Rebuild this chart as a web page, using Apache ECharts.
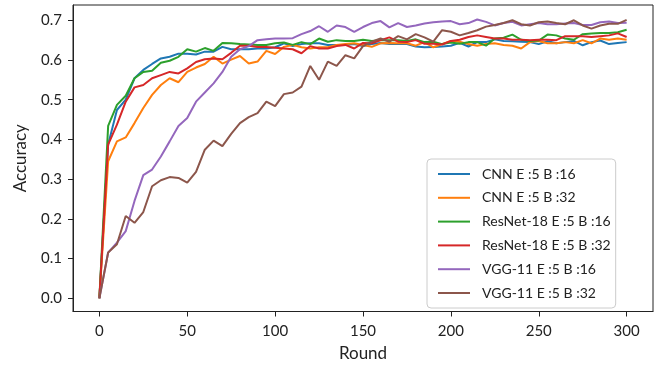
<!DOCTYPE html>
<html>
<head>
  <meta charset="UTF-8">
  <style>
    html, body { margin: 0; padding: 0; background: #fff; }
    #chart { width: 666px; height: 367px; }
  </style>
</head>
<body>
<div id="chart"></div>
<script src="https://cdn.jsdelivr.net/npm/echarts@6/dist/echarts.min.js"></script>
<script type="text/javascript">
  // round numbers on the x axis (one point every 5 rounds)
  var rounds = [0, 5, 10, 15, 20, 25, 30, 35, 40, 45, 50, 55, 60, 65, 70, 75, 80, 85, 90, 95,
    100, 105, 110, 115, 120, 125, 130, 135, 140, 145, 150, 155, 160, 165, 170, 175, 180, 185, 190, 195,
    200, 205, 210, 215, 220, 225, 230, 235, 240, 245, 250, 255, 260, 265, 270, 275, 280, 285, 290, 295, 300];

  var cnn16 = [0.0, 0.387, 0.474, 0.50, 0.554, 0.575, 0.590, 0.604, 0.608, 0.616, 0.616, 0.614, 0.621, 0.621, 0.633, 0.627, 0.627, 0.627, 0.629, 0.629,
    0.632, 0.642, 0.635, 0.640, 0.642, 0.642, 0.638, 0.638, 0.638, 0.640, 0.635, 0.640, 0.643, 0.640, 0.640, 0.640, 0.634, 0.632, 0.633, 0.634,
    0.636, 0.643, 0.634, 0.645, 0.645, 0.652, 0.648, 0.647, 0.646, 0.645, 0.640, 0.647, 0.642, 0.645, 0.648, 0.637, 0.645, 0.649, 0.640, 0.643, 0.645];
  var cnn32 = [0.0, 0.345, 0.395, 0.405, 0.441, 0.479, 0.512, 0.537, 0.554, 0.544, 0.570, 0.581, 0.590, 0.608, 0.591, 0.601, 0.610, 0.591, 0.596, 0.623,
    0.615, 0.633, 0.638, 0.632, 0.629, 0.632, 0.632, 0.638, 0.640, 0.642, 0.638, 0.633, 0.642, 0.643, 0.642, 0.642, 0.636, 0.645, 0.632, 0.640,
    0.648, 0.646, 0.640, 0.636, 0.640, 0.642, 0.638, 0.636, 0.629, 0.645, 0.648, 0.642, 0.642, 0.645, 0.642, 0.650, 0.642, 0.654, 0.651, 0.654, 0.651];
  var res16 = [0.0, 0.434, 0.487, 0.510, 0.554, 0.570, 0.573, 0.593, 0.598, 0.608, 0.627, 0.621, 0.630, 0.623, 0.643, 0.642, 0.640, 0.639, 0.638, 0.638,
    0.642, 0.644, 0.638, 0.645, 0.640, 0.654, 0.646, 0.650, 0.648, 0.648, 0.651, 0.648, 0.650, 0.650, 0.650, 0.648, 0.652, 0.645, 0.646, 0.640,
    0.644, 0.641, 0.645, 0.645, 0.636, 0.654, 0.656, 0.664, 0.651, 0.648, 0.649, 0.664, 0.662, 0.654, 0.651, 0.665, 0.667, 0.668, 0.668, 0.670, 0.676];
  var res32 = [0.0, 0.387, 0.437, 0.495, 0.531, 0.537, 0.554, 0.562, 0.570, 0.566, 0.579, 0.595, 0.602, 0.604, 0.602, 0.618, 0.636, 0.636, 0.633, 0.633,
    0.631, 0.629, 0.627, 0.617, 0.635, 0.629, 0.629, 0.635, 0.638, 0.629, 0.643, 0.642, 0.650, 0.657, 0.646, 0.645, 0.650, 0.641, 0.641, 0.639,
    0.648, 0.651, 0.658, 0.662, 0.658, 0.654, 0.654, 0.651, 0.651, 0.650, 0.651, 0.651, 0.650, 0.660, 0.660, 0.660, 0.658, 0.660, 0.662, 0.667, 0.658];
  var vgg16 = [0.0, 0.115, 0.140, 0.169, 0.245, 0.310, 0.324, 0.357, 0.395, 0.434, 0.454, 0.495, 0.518, 0.541, 0.570, 0.608, 0.627, 0.635, 0.650, 0.652,
    0.654, 0.654, 0.655, 0.665, 0.673, 0.685, 0.671, 0.687, 0.683, 0.671, 0.683, 0.693, 0.698, 0.682, 0.693, 0.683, 0.687, 0.692, 0.695, 0.697,
    0.698, 0.690, 0.693, 0.702, 0.696, 0.687, 0.693, 0.696, 0.687, 0.690, 0.693, 0.690, 0.690, 0.692, 0.693, 0.688, 0.688, 0.695, 0.697, 0.693, 0.694];
  var vgg32 = [0.0, 0.115, 0.136, 0.207, 0.190, 0.217, 0.282, 0.297, 0.305, 0.303, 0.291, 0.318, 0.374, 0.397, 0.383, 0.414, 0.441, 0.456, 0.466, 0.495,
    0.484, 0.514, 0.518, 0.533, 0.585, 0.550, 0.596, 0.585, 0.612, 0.604, 0.635, 0.646, 0.654, 0.646, 0.660, 0.652, 0.665, 0.657, 0.646, 0.675,
    0.671, 0.662, 0.668, 0.675, 0.684, 0.688, 0.693, 0.700, 0.690, 0.687, 0.695, 0.697, 0.693, 0.690, 0.700, 0.687, 0.679, 0.687, 0.691, 0.691, 0.701];

  var names = ['CNN E :5 B :16', 'CNN E :5 B :32', 'ResNet-18 E :5 B :16', 'ResNet-18 E :5 B :32', 'VGG-11 E :5 B :16', 'VGG-11 E :5 B :32'];
  var colors = ['#1f77b4', '#ff7f0e', '#2ca02c', '#d62728', '#9467bd', '#8c564b'];
  var xTicks = [0, 50, 100, 150, 200, 250, 300];
  var yTicks = [0.0, 0.1, 0.2, 0.3, 0.4, 0.5, 0.6, 0.7];

  var font = 'Lato, "Open Sans", sans-serif';
  var allData = [cnn16, cnn32, res16, res32, vgg16, vgg32];

  function pairs(vals) {
    var out = [];
    for (var i = 0; i < vals.length; i++) out.push([rounds[i], vals[i]]);
    return out;
  }

  var series = [];
  for (var s = 0; s < names.length; s++) {
    series.push({
      name: names[s],
      type: 'line',
      data: pairs(allData[s]),
      showSymbol: false,
      symbol: 'none',
      lineStyle: {width: 2, color: colors[s]},
      itemStyle: {color: colors[s]}
    });
  }

  var myChart = echarts.init(document.getElementById('chart'), null, {renderer: 'canvas'});
  var option = {
    animation: false,
    backgroundColor: '#fff',
    grid: {
      left: 73, right: 13, top: 5, bottom: 54,
      show: true, borderColor: '#222', borderWidth: 1, backgroundColor: 'transparent'
    },
    xAxis: {
      type: 'value',
      min: -15, max: 315,
      name: 'Round', nameLocation: 'middle', nameGap: 33.5,
      nameTextStyle: {fontFamily: font, fontSize: 17, color: '#222'},
      axisLine: {show: true, onZero: false, lineStyle: {color: '#222', width: 1}},
      axisTick: {show: true, inside: false, length: 5, customValues: xTicks, lineStyle: {color: '#222'}},
      axisLabel: {customValues: xTicks, margin: 12, fontFamily: font, fontSize: 15, color: '#222'},
      splitLine: {show: false}
    },
    yAxis: {
      type: 'value',
      min: -0.0335, max: 0.7385,
      name: 'Accuracy', nameLocation: 'middle', nameGap: 44,
      nameTextStyle: {fontFamily: font, fontSize: 17, color: '#222'},
      axisLine: {show: true, onZero: false, lineStyle: {color: '#222', width: 1}},
      axisTick: {show: true, inside: false, length: 5, customValues: yTicks, lineStyle: {color: '#222'}},
      axisLabel: {
        customValues: yTicks, margin: 11, fontFamily: font, fontSize: 15, color: '#222',
        formatter: function (v) { return v.toFixed(1); }
      },
      splitLine: {show: false}
    },
    legend: {
      data: names,
      orient: 'vertical',
      left: 427, top: 159,
      padding: [7, 5, 7, 11],
      itemWidth: 32, itemHeight: 2, itemGap: 7.8,
      icon: 'rect',
      backgroundColor: 'rgba(255,255,255,0.8)',
      borderColor: '#ccc', borderWidth: 1, borderRadius: 4,
      textStyle: {fontFamily: font, fontSize: 14, color: '#222', lineHeight: 16, padding: [0, 0, 0, 7]}
    },
    series: series
  };
  myChart.setOption(option);
</script>
</body>
</html>
